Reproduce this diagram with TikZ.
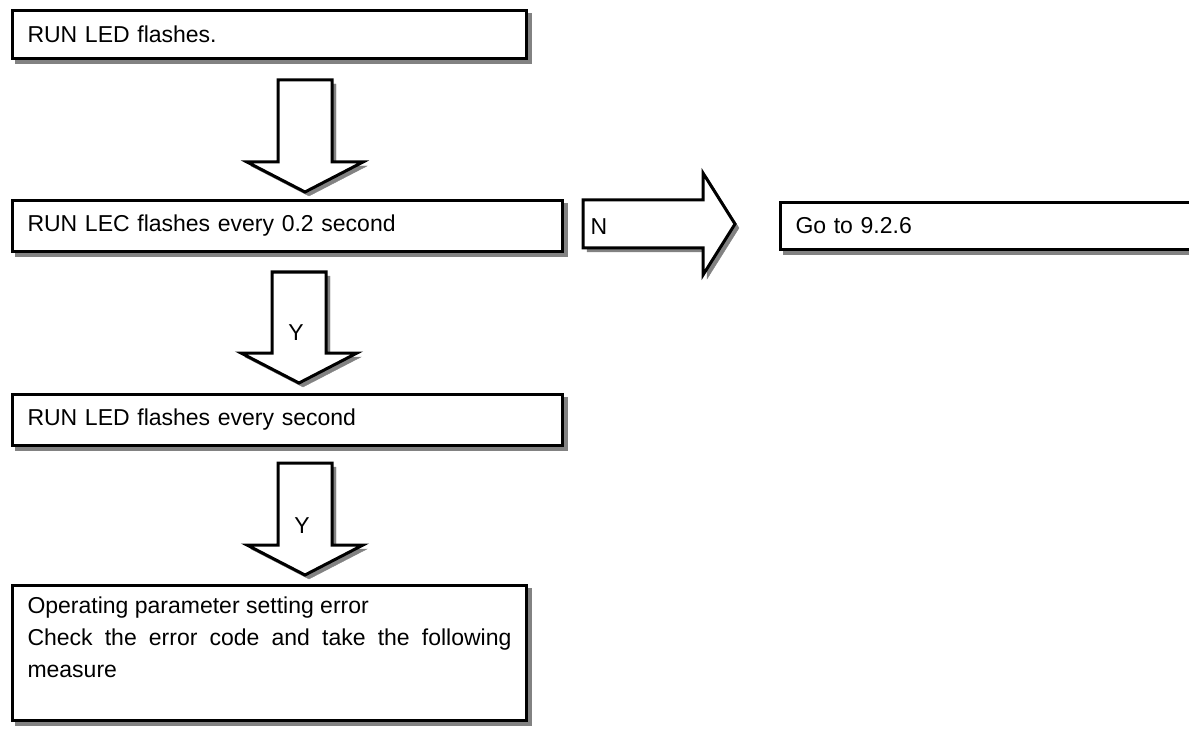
\documentclass[tikz,border=0pt]{standalone}
\usepackage{fontspec}
\setmainfont{Liberation Sans}
\usetikzlibrary{calc,shadows}
\definecolor{shade}{RGB}{130,130,130}
\tikzset{
  flowbox/.style={draw, line width=3pt, fill=white, anchor=north west,
    inner xsep=15pt, inner ysep=0pt, align=left,
    font=\fontsize{23}{32}\selectfont,
    drop shadow={shadow xshift=4pt, shadow yshift=-4pt, fill=shade, draw=shade, opacity=1}},
  tag/.style={inner sep=0pt, font=\fontsize{23}{26}\selectfont},
  downarrow/.style={draw, line width=3pt, fill=white, line join=miter,
    drop shadow={shadow xshift=4pt, shadow yshift=-4pt, fill=shade, draw=shade, opacity=1},
    to path={let \p1=(\tikztostart), \p2=(\tikztotarget) in
      (\x1-27pt,\y1) -- (\x1+27pt,\y1) -- (\x1+27pt,\y2+30pt) -- (\x1+58pt,\y2+30pt)
      -- (\x2,\y2) -- (\x1-58pt,\y2+30pt) -- (\x1-27pt,\y2+30pt) -- cycle}},
  rightarrow/.style={draw, line width=3pt, fill=white, line join=miter,
    drop shadow={shadow xshift=4pt, shadow yshift=-4pt, fill=shade, draw=shade, opacity=1},
    to path={let \p1=(\tikztostart), \p2=(\tikztotarget) in
      (\x1,\y1+24pt) -- (\x2-32pt,\y1+24pt) -- (\x2-32pt,\y1+51pt) -- (\x2,\y2)
      -- (\x2-32pt,\y1-51pt) -- (\x2-32pt,\y1-24pt) -- (\x1,\y1-24pt) -- cycle}}
}
\begin{document}
\begin{tikzpicture}[x=1pt, y=-1pt]
\useasboundingbox (0,0) rectangle (1189,730);
% boxes
\node[flowbox, text width=484pt, minimum height=48pt] (flash) at (11,9) {RUN LED flashes.};
\node[flowbox, text width=520pt, minimum height=51pt] (fast) at (11,199) {RUN LEC flashes every 0.2 second};
\node[flowbox, text width=400pt, minimum height=47pt] (goto) at (779,201) {Go to 9.2.6};
\node[flowbox, text width=520pt, minimum height=51pt] (slow) at (11,393) {RUN LED flashes every second};
\node[flowbox, text width=484pt, minimum height=135pt, align=justify] (error) at (11,584)
  {Operating parameter setting error\\Check the error code and take the following\linebreak measure\\\mbox{}};
% arrows
\coordinate (a1s) at (305,80);  \coordinate (a1e) at (305,192);
\coordinate (a2s) at (299,272); \coordinate (a2e) at (299,383);
\coordinate (a3s) at (305,463); \coordinate (a3e) at (305,575);
\coordinate (a4s) at (583,224); \coordinate (a4e) at (735,224);
\draw[downarrow] (a1s) to (a1e);
\draw[downarrow] (a2s) to (a2e);
\draw[downarrow] (a3s) to (a3e);
\draw[rightarrow] (a4s) to (a4e);
% labels
\node[tag] (yes1) at (296,333) {Y};
\node[tag] (yes2) at (302,526) {Y};
\node[tag] (no) at (599,227) {N};
\end{tikzpicture}
\end{document}
